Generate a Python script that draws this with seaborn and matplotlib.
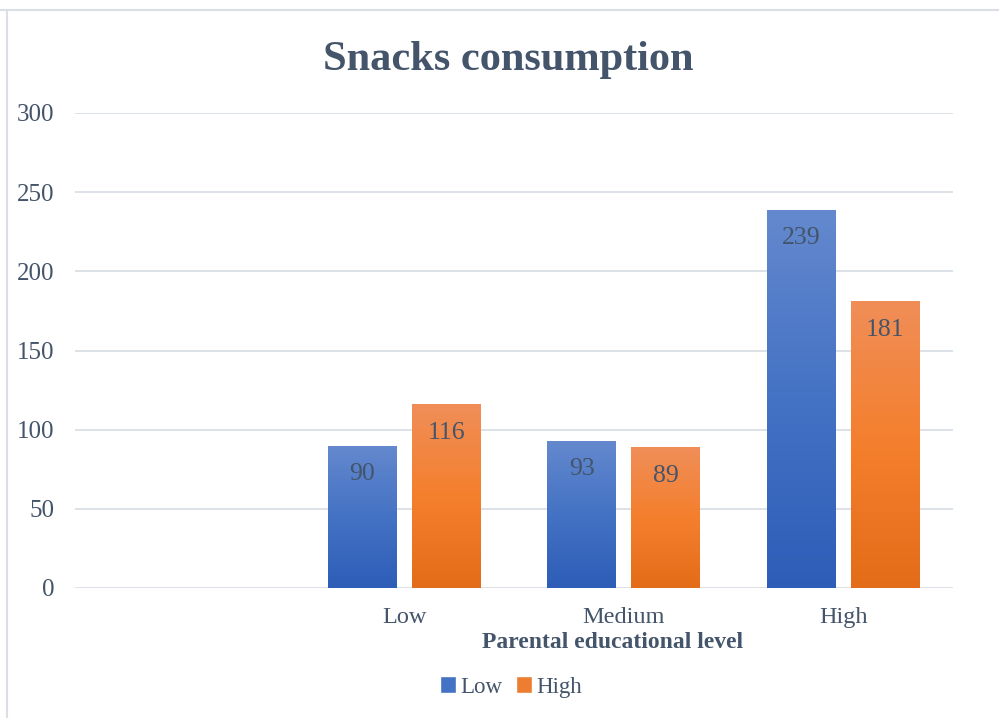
import numpy as np
import pandas as pd
import matplotlib
matplotlib.use("Agg")
import matplotlib.pyplot as plt
from matplotlib.colors import LinearSegmentedColormap
from matplotlib.lines import Line2D
from matplotlib.patches import Patch
import seaborn as sns

categories = ["Low", "Medium", "High"]
low_values = [90, 93, 239]
high_values = [116, 89, 181]
series_names = ["Low", "High"]
y_ticks = [0, 50, 100, 150, 200, 250, 300]

df = pd.DataFrame({
    "level": categories * 2,
    "value": low_values + high_values,
    "series": [series_names[0]] * 3 + [series_names[1]] * 3,
})

text_col = "#44546A"
grid_col = "#DADFE6"
blue = "#4472C4"
orange = "#ED7D31"
cmaps = [
    LinearSegmentedColormap.from_list("b", ["#2E5DB8", "#4472C4", "#6489CE"]),
    LinearSegmentedColormap.from_list("o", ["#E36C18", "#F47F2D", "#F08E58"]),
]

sns.set_style("white")
plt.rcParams["font.family"] = ["Liberation Serif", "DejaVu Serif"]

fig = plt.figure(figsize=(9.99, 7.18), dpi=100)
ax = fig.add_axes([75 / 999, 1 - 588 / 718, 878 / 999, 475 / 718])

sns.barplot(data=df, x="level", y="value", hue="series", order=categories,
            hue_order=series_names, palette=[blue, orange],
            width=0.764, gap=0.18, legend=False, ax=ax)

# gradient fill clipped to each bar
for cont, cmap in zip(ax.containers, cmaps):
    for bar in cont:
        x0, w, h = bar.get_x(), bar.get_width(), bar.get_height()
        grad = np.linspace(0, 1, 256).reshape(-1, 1)
        im = ax.imshow(grad, extent=[x0, x0 + w, 0, h], origin="lower",
                       cmap=cmap, aspect="auto", zorder=2)
        im.set_clip_path(bar)
        bar.set_facecolor("none")
        bar.set_edgecolor("none")
    for bar in cont:
        val = bar.get_height()
        ax.annotate(f"{val:g}", (bar.get_x() + bar.get_width() / 2, val),
                    xytext=(0, -20.5), textcoords="offset points",
                    ha="center", va="center", fontsize=18.5, color=text_col,
                    zorder=4)

ax.set_xlim(-1.5, 2.5)
ax.set_ylim(0, 300)
ax.set_yticks(y_ticks)
ax.yaxis.grid(True, color=grid_col, lw=1.3)
ax.set_axisbelow(True)
sns.despine(ax=ax, left=True, bottom=True, top=True, right=True)
ax.tick_params(axis="y", length=0, pad=15, labelsize=18, labelcolor=text_col)
ax.tick_params(axis="x", length=0, pad=14, labelsize=17.5, labelcolor=text_col)
ax.set_ylabel("")

ax.set_xlabel("Parental educational level", fontsize=17, fontweight="bold",
              color=text_col)
ax.xaxis.set_label_coords((613 - 75) / 878, -55 / 475)
ax.xaxis.label.set_va("center")

fig.text(508 / 999, 1 - 60 / 718, "Snacks consumption", ha="center",
         va="center", fontsize=30.5, fontweight="bold", color=text_col)

handles = [Patch(facecolor=blue), Patch(facecolor=orange)]
fig.legend(handles, series_names, loc="center", ncol=2,
           bbox_to_anchor=(511 / 999, 1 - 687 / 718), frameon=False,
           fontsize=16.5, labelcolor=text_col, handlelength=0.7,
           handleheight=0.7, handletextpad=0.2, columnspacing=0.6)

# chart frame (top and left edges visible)
fig.add_artist(Line2D([0, 1], [1 - 10 / 718] * 2, color=grid_col, lw=1.5,
                      transform=fig.transFigure))
fig.add_artist(Line2D([7 / 999] * 2, [0, 1 - 10 / 718], color=grid_col,
                      lw=1.5, transform=fig.transFigure))

fig.savefig("out.png", dpi=100, facecolor="white")
